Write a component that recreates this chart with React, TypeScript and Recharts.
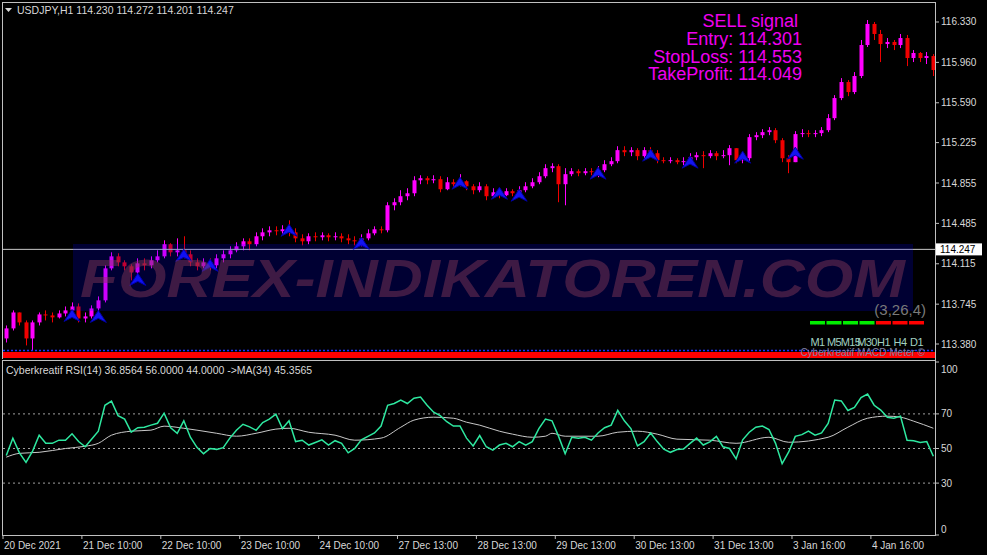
import { ComposedChart, Bar, Line, Scatter, XAxis, YAxis, ReferenceLine } from 'recharts'

const FONT = "'Liberation Sans', Arial, sans-serif"
const TXT = '#d8d8d8'
const AXIS = '#c0c0c0'
const UP = '#ff00ff'
const DOWN = '#f00000'

// H1 USDJPY, drawn as 2h candles
const OPEN0 = 113.431
const CLOSE = [113.523,113.669,113.578,113.431,113.578,113.651,113.642,113.624,113.660,113.688,
  113.724,113.614,113.633,113.706,113.780,114.073,114.183,114.128,114.092,114.036,
  114.119,114.101,114.147,114.183,114.294,114.220,114.238,114.202,114.128,114.092,
  114.128,114.101,114.165,114.202,114.238,114.275,114.321,114.294,114.367,114.403,
  114.422,114.413,114.431,114.403,114.348,114.321,114.367,114.358,114.376,114.358,
  114.367,114.348,114.330,114.321,114.348,114.394,114.431,114.422,114.651,114.679,
  114.734,114.761,114.880,114.899,114.880,114.890,114.798,114.862,114.844,114.871,
  114.825,114.789,114.825,114.734,114.770,114.743,114.780,114.761,114.789,114.825,
  114.862,114.917,114.991,115.009,114.844,114.936,114.963,114.945,114.963,114.954,
  114.972,115.027,115.055,115.156,115.137,115.156,115.101,115.156,115.128,115.064,
  115.055,115.064,115.046,115.055,115.091,115.110,115.101,115.128,115.101,115.110,
  115.174,115.064,115.082,115.275,115.293,115.321,115.339,115.247,115.082,115.046,
  115.303,115.312,115.303,115.312,115.339,115.449,115.633,115.780,115.688,115.835,
  116.119,116.312,116.220,116.128,116.147,116.119,116.183,116.000,116.046,116.000,
  116.018,115.890]
const HIGH = [113.550,113.688,113.642,113.596,113.596,113.669,113.688,113.669,113.688,113.724,
  113.761,113.752,113.669,113.734,113.816,114.101,114.220,114.211,114.147,114.110,
  114.165,114.165,114.183,114.238,114.330,114.303,114.348,114.367,114.238,114.165,
  114.165,114.165,114.202,114.238,114.275,114.312,114.348,114.348,114.403,114.440,
  114.458,114.458,114.468,114.513,114.440,114.385,114.394,114.403,114.403,114.394,
  114.403,114.394,114.385,114.367,114.385,114.431,114.458,114.458,114.679,114.715,
  114.789,114.807,114.917,114.926,114.917,114.926,114.917,114.908,114.890,114.936,
  114.880,114.844,114.862,114.844,114.807,114.798,114.807,114.798,114.825,114.862,
  114.899,114.954,115.027,115.036,115.027,114.991,114.991,114.981,114.991,114.991,
  115.009,115.064,115.091,115.192,115.192,115.183,115.174,115.183,115.183,115.156,
  115.091,115.091,115.082,115.091,115.128,115.137,115.147,115.156,115.147,115.156,
  115.202,115.174,115.119,115.303,115.321,115.348,115.367,115.358,115.266,115.110,
  115.330,115.348,115.339,115.339,115.367,115.486,115.660,115.816,115.798,115.871,
  116.165,116.348,116.330,116.257,116.183,116.165,116.220,116.211,116.073,116.055,
  116.055,116.036]
const LOW = [113.394,113.504,113.550,113.367,113.321,113.550,113.596,113.578,113.614,113.633,
  113.669,113.578,113.578,113.614,113.669,113.761,114.055,114.092,114.055,113.963,
  114.009,114.055,114.073,114.128,114.165,114.183,114.183,114.165,114.092,114.055,
  114.073,114.055,114.073,114.128,114.165,114.220,114.238,114.238,114.275,114.330,
  114.367,114.376,114.385,114.367,114.312,114.284,114.294,114.321,114.330,114.321,
  114.330,114.312,114.294,114.284,114.275,114.330,114.376,114.394,114.403,114.605,
  114.651,114.697,114.734,114.844,114.844,114.853,114.770,114.789,114.807,114.825,
  114.789,114.752,114.770,114.697,114.725,114.715,114.734,114.734,114.734,114.770,
  114.807,114.844,114.899,114.954,114.679,114.651,114.917,114.917,114.926,114.926,
  114.908,114.954,115.009,115.036,115.101,115.101,115.064,115.082,115.101,115.036,
  115.036,115.036,115.027,115.018,115.046,115.064,114.991,115.082,115.064,115.082,
  115.018,115.036,115.036,115.055,115.247,115.266,115.293,115.220,115.046,114.945,
  115.046,115.275,115.275,115.275,115.284,115.321,115.431,115.614,115.651,115.669,
  115.816,116.101,116.165,115.963,116.091,116.073,116.091,115.926,115.963,115.963,
  115.945,115.835]

// buy arrows (bar index, price at arrow tip)
const SIG_BARS = [10,14,20,27,31,43,54,69,75,78,90,98,104,112,120]
const SIG_PRICES = [113.697,113.688,114.027,114.247,114.156,114.477,114.358,114.908,114.816,114.798,115.000,115.165,115.101,115.147,115.183]

const RSI = [46,56,47.5,42,48.5,57.7,53,53,54.8,54.8,
  58.5,54,51,55.5,60,75,77.4,69,67,59.5,
  62,62.3,63.5,64.6,70.4,62,58.8,66,56.5,50.7,
  47,50,49.5,50.5,56,60.6,64,62.5,60.5,65,
  67,69.9,61.5,66,54,54.8,52,53.5,55,52,
  54.5,53,47.5,50,55,57,59,63,75,76,
  78,76,79.1,79.7,75,71,69,65.5,63,63,
  56,51.5,57.5,51,49,52,53,51,54,52,
  54,61.5,67,66,57,47,56.5,56,56.5,54.8,
  59,62,63.5,72,66,61.5,51.5,54,59,54,
  49.6,47.8,49.4,49.7,53,56,52,53.8,57,51,
  50,44,55,59.4,62.3,63,61,53,41.2,48,
  57,58,60,57.7,59,64.5,78,77.5,72,73.8,
  79.5,81.5,75,72.2,68,67.5,68.7,54.8,54.5,53.5,
  54,45.5]

const MA_BARS = [0,2,5,9,12,14,16,19,22,24,27,29,32,35,38,41,43,46,50,53,57,60,62,65,68,70,72,75,77,80,
  82,83,85,90,93,96,99,102,107,111,116,119,125,128,131,134,136,138,141]
const MA_VALS = [45,47.2,47.8,50,51.3,53,57.7,60,60.6,62.9,61.7,60.6,58.8,57.1,58.8,61.2,61.7,59.4,57.7,54.8,
  56,62.3,66.4,68.1,67.5,65.2,63.5,60,58.3,56.5,57.1,58.8,57.1,57.1,59.4,60,58.3,55.4,54.8,53,
  56.5,53.6,56.5,62.3,67.5,68.7,68.1,65.8,61.7]

const PRICE_TICKS = [116.330,115.960,115.590,115.225,114.855,114.485,114.115,113.745,113.380]
const LAST_PRICE = 114.247
const X_LABELS = ['20 Dec 2021','21 Dec 10:00','22 Dec 10:00','23 Dec 10:00','24 Dec 10:00','27 Dec 13:00',
  '28 Dec 13:00','29 Dec 13:00','30 Dec 13:00','31 Dec 13:00','3 Jan 16:00','4 Jan 16:00']
const X_TICKS = X_LABELS.map((_, k) => k * 12 - 0.5)
const RSI_LEVELS = [70, 50, 30]
const TF = ['M1','M5','M15','M30','H1','H4','D1']
const TF_UP = [true, true, true, true, false, false, false]

const candles = CLOSE.map((c, i) => {
  const o = i === 0 ? OPEN0 : CLOSE[i - 1]
  const h = Math.max(HIGH[i], o, c)
  const l = Math.min(LOW[i], o, c)
  return { i, open: o, close: c, high: h, low: l, range: [l, h] }
})
const signals = SIG_BARS.map((b, k) => ({ i: b, p: SIG_PRICES[k] }))
const rsiRows = RSI.map((v, i) => ({ i, rsi: v }))
const maRows = MA_BARS.map((b, k) => ({ i: b, ma: MA_VALS[k] }))

const X_DOMAIN: [number, number] = [-0.5, 141.25]

function Candle(props: any) {
  const { x, y, width, height, payload } = props
  if (!payload) return <g />
  const top = Math.min(y, y + height)
  const h = Math.abs(height)
  const span = payload.high - payload.low || 1
  const py = (v: number) => top + ((payload.high - v) / span) * h
  const up = payload.close >= payload.open
  const color = up ? UP : DOWN
  const cx = Math.round(x + width / 2) + 0.5
  const yo = py(payload.open), yc = py(payload.close)
  return (
    <g>
      <line x1={cx} x2={cx} y1={top} y2={top + h} stroke={color} strokeWidth={1} />
      <rect x={cx - 2} y={Math.min(yo, yc)} width={4} height={Math.max(1, Math.abs(yc - yo))} fill={color} />
    </g>
  )
}

function Arrow(props: any) {
  const { cx, cy } = props
  if (cx == null || cy == null) return <g />
  return (
    <path d={`M${cx},${cy} L${cx + 8},${cy + 12} L${cx},${cy + 8} L${cx - 8},${cy + 12} Z`}
      fill="#1414f0" stroke="#0000a0" strokeWidth={1} />
  )
}

function PriceTick(props: any) {
  const { y, payload } = props
  return (
    <g>
      <line x1={935} x2={939} y1={y} y2={y} stroke={AXIS} />
      <text x={941} y={y} dy={3.5} fontSize={10} fontFamily={FONT} fill={TXT}>{Number(payload.value).toFixed(3)}</text>
    </g>
  )
}

function RsiTick(props: any) {
  const { y, payload } = props
  const v = payload.value
  const ty = v === 100 ? y + 7 : v === 0 ? y - 6 : y
  return (
    <g>
      <line x1={935} x2={939} y1={y} y2={y} stroke={AXIS} />
      <text x={941} y={ty} dy={3.5} fontSize={10} fontFamily={FONT} fill={TXT}>{v}</text>
    </g>
  )
}

function TimeTick(props: any) {
  const { x, payload } = props
  const k = Math.round((payload.value + 0.5) / 12)
  return (
    <g>
      <line x1={x} x2={x} y1={175} y2={179} stroke={AXIS} />
      <text x={x + 1} y={189} fontSize={10} fontFamily={FONT} fill={TXT}>{X_LABELS[k]}</text>
    </g>
  )
}

function PriceBox(props: any) {
  const vb = props.viewBox || {}
  const y = vb.y ?? 0
  return (
    <g>
      <rect x={936} y={y - 6} width={46} height={12} fill="#ffffff" />
      <text x={940} y={y} dy={3.5} fontSize={10} fontFamily={FONT} fill="#000000">{LAST_PRICE.toFixed(3)}</text>
    </g>
  )
}

function Overlay() {
  return (
    <svg width={987} height={555} style={{ position: 'absolute', left: 0, top: 0, pointerEvents: 'none' }} fontFamily={FONT}>
      {/* panel borders */}
      <line x1={2} x2={936} y1={2.5} y2={2.5} stroke={AXIS} />
      <line x1={2.5} x2={2.5} y1={2} y2={359} stroke={AXIS} />
      <line x1={2} x2={936} y1={360.5} y2={360.5} stroke={AXIS} />
      <line x1={2.5} x2={2.5} y1={361} y2={536} stroke={AXIS} />
      <line x1={2} x2={936} y1={535.5} y2={535.5} stroke={AXIS} />
      <line x1={935.5} x2={935.5} y1={2} y2={536} stroke={AXIS} />

      {/* header */}
      <path d="M5,8 L12,8 L8.5,12 Z" fill={TXT} />
      <text x={17} y={14} fontSize={10.5} fill={TXT}>USDJPY,H1  114.230 114.272 114.201 114.247</text>

      {/* watermark */}
      <rect x={73} y={244} width={840} height={67} fill="#0000ff" opacity={0.2} />
      <text x={80} y={297} fontSize={54} fontWeight="bold" fontStyle="italic" textLength={825}
        lengthAdjust="spacingAndGlyphs" fill="#8a3a5a" opacity={0.45}>FOREX-INDIKATOREN.COM</text>

      {/* signal text */}
      <g fill="#f000f0" fontSize={18} textAnchor="end">
        <text x={798} y={27}>SELL signal</text>
        <text x={802} y={45}>Entry: 114.301</text>
        <text x={802} y={63}>StopLoss: 114.553</text>
        <text x={802} y={80}>TakeProfit: 114.049</text>
      </g>

      {/* MACD meter */}
      <text x={926} y={315} fontSize={15} fill="#7a7a7a" textAnchor="end">(3,26,4)</text>
      {TF.map((t, k) => {
        const x0 = 810 + k * 16.5
        return (
          <g key={t}>
            <rect x={x0} y={321} width={15} height={3.5} fill={TF_UP[k] ? '#00ee00' : '#ff0000'} />
            <text x={x0 + 7.5} y={346} fontSize={11} letterSpacing={-0.6} fill="#a0d0c0" textAnchor="middle">{t}</text>
          </g>
        )
      })}
      <line x1={3} x2={935} y1={350.5} y2={350.5} stroke="#2030ff" strokeWidth={1.5} strokeDasharray="2 2" />
      <rect x={3} y={352} width={932} height={6} fill="#ff0000" />
      <text x={925} y={356} fontSize={10} fill="#8080a0" textAnchor="end">Cyberkreatif MACD Meter ©</text>

      {/* RSI title */}
      <text x={6} y={374} fontSize={10.5} fill={TXT}>Cyberkreatif RSI(14) 36.8564 56.0000 44.0000  -&gt;MA(34) 45.3565</text>
    </svg>
  )
}

export default function App() {
  return (
    <div style={{ position: 'fixed', left: 0, top: 0, width: 987, height: 555, background: '#000', overflow: 'hidden', fontFamily: FONT }}>
      <div style={{ position: 'absolute', left: 0, top: 0 }}>
        <ComposedChart width={987} height={360} data={candles} margin={{ top: 3, right: 0, bottom: 3, left: 3 }}>
          <XAxis dataKey="i" type="number" domain={X_DOMAIN} hide allowDataOverflow />
          <YAxis orientation="right" width={52} domain={[113.261, 116.504]} ticks={PRICE_TICKS}
            tick={(p: any) => <PriceTick {...p} />} axisLine={false} tickLine={false} allowDataOverflow interval={0} />
          <ReferenceLine y={LAST_PRICE} stroke="#c8c8c8" strokeWidth={1} label={(p: any) => <PriceBox {...p} />} />
          <Bar dataKey="range" shape={(p: any) => <Candle {...p} />} barSize={4} isAnimationActive={false} />
          <Scatter data={signals} dataKey="p" shape={(p: any) => <Arrow {...p} />} isAnimationActive={false} />
        </ComposedChart>
      </div>
      <div style={{ position: 'absolute', left: 0, top: 360 }}>
        <ComposedChart width={987} height={195} data={rsiRows} margin={{ top: 2, right: 0, bottom: 0, left: 3 }}>
          <XAxis dataKey="i" type="number" domain={X_DOMAIN} ticks={X_TICKS} interval={0} height={20}
            tick={(p: any) => <TimeTick {...p} />} axisLine={false} tickLine={false} allowDataOverflow />
          <YAxis orientation="right" width={52} domain={[0, 100]} ticks={[0, 30, 50, 70, 100]} interval={0}
            tick={(p: any) => <RsiTick {...p} />} axisLine={false} tickLine={false} />
          {RSI_LEVELS.map(v => (
            <ReferenceLine key={v} y={v} stroke="#a0a0a0" strokeDasharray="2 3" />
          ))}
          <Line data={maRows} dataKey="ma" type="monotone" stroke="#c8c8c8" strokeWidth={1} dot={false} isAnimationActive={false} />
          <Line dataKey="rsi" type="linear" stroke="#2ee8a0" strokeWidth={1.5} dot={false} isAnimationActive={false} />
        </ComposedChart>
      </div>
      <Overlay />
    </div>
  )
}
